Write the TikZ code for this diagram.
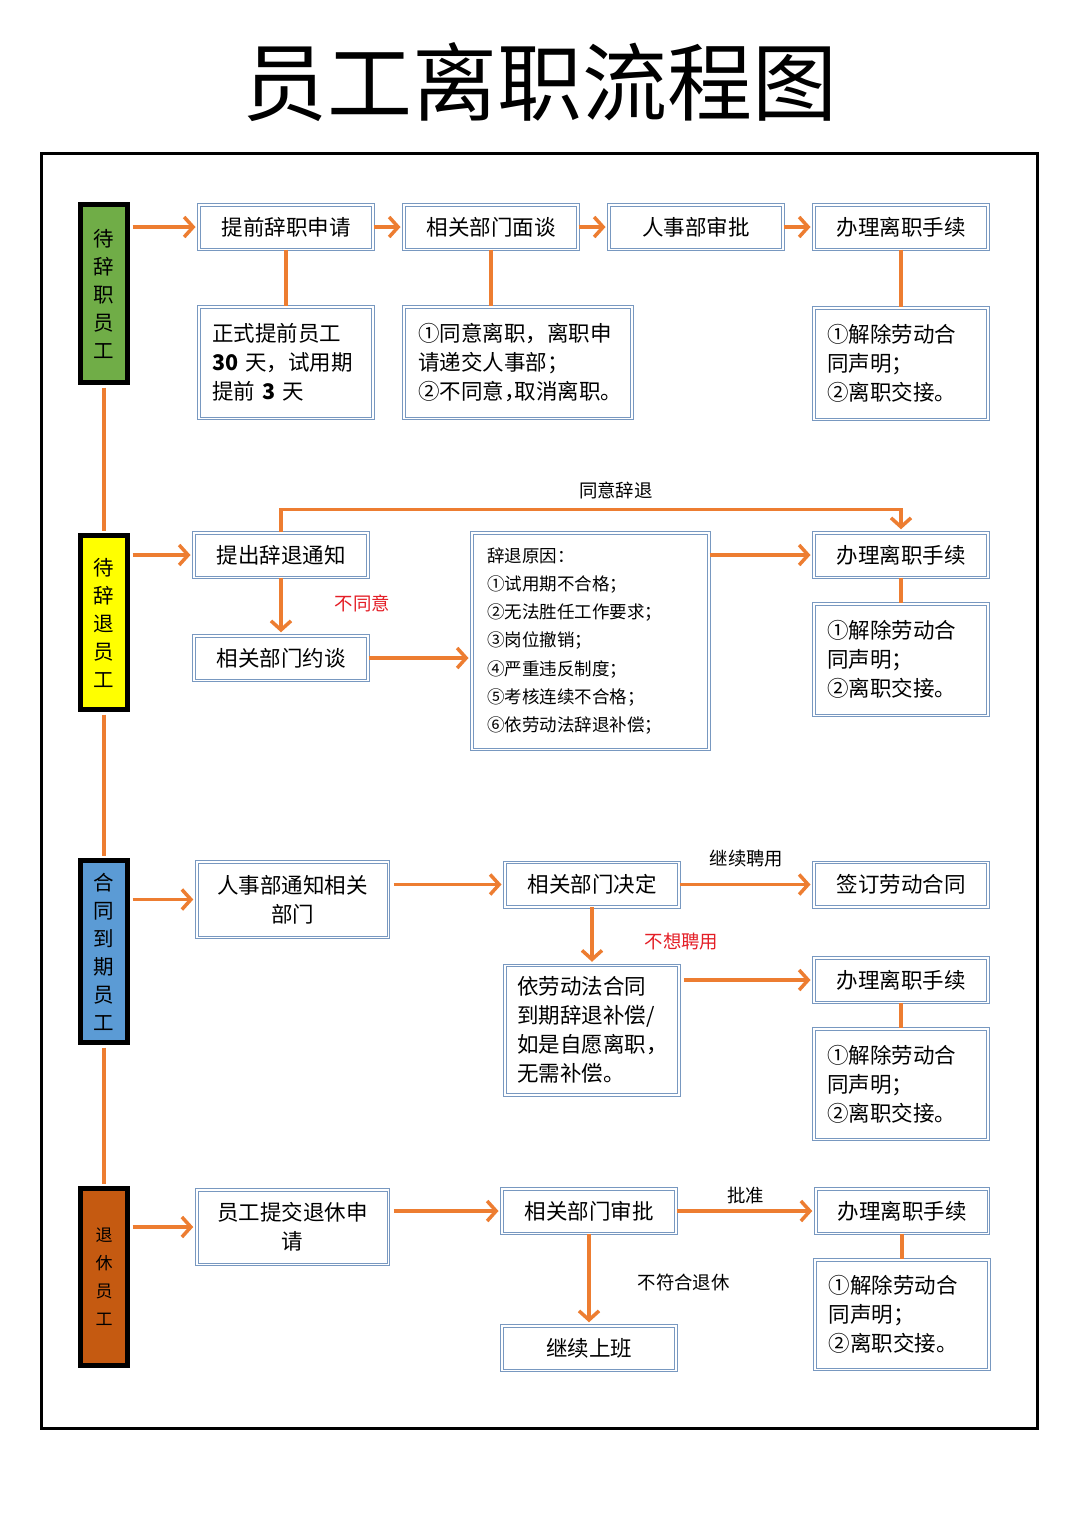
\documentclass[tikz,border=0pt]{standalone}
\usepackage{fontspec}
\setmainfont{Noto Sans CJK SC}
\usepackage{tikz}
\usetikzlibrary{positioning}
\usetikzlibrary{arrows.meta}

\definecolor{flowline}{RGB}{237,125,49}
\definecolor{boxline}{RGB}{120,152,192}
\definecolor{lanegreen}{RGB}{112,173,71}
\definecolor{laneyellow}{RGB}{255,255,0}
\definecolor{laneblue}{RGB}{91,155,213}
\definecolor{lanebrown}{RGB}{197,90,17}
\definecolor{tagred}{RGB}{228,30,38}

\newcommand\halfp[1]{\makebox[0.5em][l]{#1}}

\begin{document}
\begin{tikzpicture}[x=1pt,y=-1pt,>={Straight Barb[length=9pt,width=20pt]},
                    lane node/.style={draw=black,line width=5pt,minimum width=47pt,inner sep=0pt,align=center,font=\fontsize{20.5}{28}\selectfont},
                    box node/.style={draw=boxline,double=white,double distance=1.5pt,line width=1pt,fill=white,
                                     minimum width=174pt,minimum height=44.5pt,inner sep=2pt,font=\fontsize{21.5}{29}\selectfont},
                    note node/.style={box node,align=left,text width=148pt,inner xsep=13pt,inner ysep=0pt},
                    tag node/.style={font=\fontsize{18.4}{20}\selectfont,inner sep=2pt},
                    flow/.style={draw=flowline,line width=3.5pt},
                    flow arrow/.style={flow,->,shorten >=3pt}]

  \path[use as bounding box,fill=white] (0,0) rectangle (1080,1527);
  \node[font=\fontsize{85}{90}\selectfont] (title) at (540,82) {员工离职流程图};
  \draw[line width=3pt] (41,153) rectangle (1037,1428);

  % lanes
  \node[lane node,fill=lanegreen,minimum height=178pt] (l1) at (104,293.5) {待\\辞\\职\\员\\工};
  \node[lane node,fill=laneyellow,minimum height=174pt] (l2) at (104,622.5) {待\\辞\\退\\员\\工};
  \node[lane node,fill=laneblue,minimum height=182pt] (l3) at (104,951.5) {合\\同\\到\\期\\员\\工};
  \node[lane node,fill=lanebrown,minimum height=177pt,font=\fontsize{17}{28}\selectfont] (l4) at (104,1277) {退\\休\\员\\工};

  % resign
  \node[box node] (apply) at (286,227) {提前辞职申请};
  \node[box node] (talk) at (491,227) {相关部门面谈};
  \node[box node] (hrok) at (696,227) {人事部审批};
  \node[box node] (quit1) at (901,227) {办理离职手续};
  \node[note node,minimum height=111.5pt] (notice1) at (286,362.5) {正式提前员工\\\textbf{30} 天，试用期\\提前 \textbf{3} 天};
  \node[note node,text width=200pt,inner xsep=14pt,minimum width=228pt,minimum height=111.5pt] (agree) at (518,362.5)
       {①同意离职，离职申\\请递交人事部；\\②不同意\halfp{，}取消离职。};
  \node[note node,minimum height=111.5pt,below=57.5pt of quit1] (hand1) {①解除劳动合\\同声明；\\②离职交接。};

  % dismiss
  \node[box node] (notice) at (281,555) {提出辞退通知};
  \node[box node,below=57.5pt of notice] (meet) {相关部门约谈};
  \node[note node,text width=207pt,inner xsep=15pt,minimum width=237pt,minimum height=216.5pt,font=\fontsize{17.5}{28.3}\selectfont] (reason) at (590.5,641)
       {辞退原因：\\①试用期不合格；\\②无法胜任工作要求；\\③岗位撤销；\\④严重违反制度；\\⑤考核连续不合格；\\⑥依劳动法辞退补偿；};
  \node[box node] (quit2) at (901,555) {办理离职手续};
  \node[note node,minimum height=111.5pt,below=25.5pt of quit2] (hand2) {①解除劳动合\\同声明；\\②离职交接。};

  % contract ends
  \node[box node,minimum width=191.5pt,minimum height=75.5pt,align=center] (hrtell) at (292.5,899.5) {人事部通知相关\\部门};
  \node[box node] (decide) at (592,884.5) {相关部门决定};
  \node[box node] (sign) at (901,884.5) {签订劳动合同};
  \node[note node,text width=150pt,inner xsep=12pt,minimum height=129.5pt,below=57.5pt of decide] (comp)
       {依劳动法合同\\到期辞退补偿/\\如是自愿离职，\\无需补偿。};
  \node[box node] (quit3) at (901,980) {办理离职手续};
  \node[note node,minimum height=110.5pt,below=25.5pt of quit3] (hand3) {①解除劳动合\\同声明；\\②离职交接。};

  % retire
  \node[box node,minimum width=191.5pt,minimum height=74.5pt,align=center] (retire) at (292.5,1227) {员工提交退休申\\请};
  \node[box node] (approve) at (589,1211) {相关部门审批};
  \node[box node,below=91.5pt of approve] (keep) {继续上班};
  \node[box node,minimum width=172.5pt] (quit4) at (902,1211) {办理离职手续};
  \node[note node,text width=146.5pt,minimum height=109.5pt,below=25.5pt of quit4] (hand4) {①解除劳动合\\同声明；\\②离职交接。};

  \path[flow]
    (l1) edge[shorten <=2.5pt,shorten >=2.5pt] (l2)
    (l2) edge[shorten <=2.5pt,shorten >=2.5pt] (l3)
    (l3) edge[shorten <=2.5pt,shorten >=2.5pt] (l4)
    (apply) edge (notice1)
    (talk) edge (talk.south |- agree.north)
    (quit1) edge (hand1)
    (quit2) edge (hand2)
    (quit3) edge (hand3)
    (quit4) edge (hand4);

  \path[flow arrow]
    (apply) edge (talk)
    (talk) edge (hrok)
    (hrok) edge (quit1)
    (notice) edge node[tag node,pos=0.45,right=50pt,text=tagred] {不同意} (meet)
    (decide) edge node[tag node,above=14pt] {继续聘用} (sign)
    (decide) edge node[tag node,pos=0.6,right=49pt,text=tagred] {不想聘用} (comp)
    (approve) edge node[tag node,above=3pt] {批准} (quit4)
    (approve) edge node[tag node,pos=0.53,right=45pt] {不符合退休} (keep);

  \draw[flow arrow,shorten <=2.5pt] (l1.east |- apply) -- (apply.west);
  \draw[flow arrow,shorten <=2.5pt] (l2.east |- notice) -- (notice.west);
  \draw[flow arrow,shorten <=2.5pt] (l3.east |- hrtell) -- (hrtell.west);
  \draw[flow arrow,shorten <=2.5pt] (l4.east |- retire) -- (retire.west);
  \draw[flow arrow] (meet.east) -- (reason.west |- meet);
  \draw[flow arrow] (reason.east |- quit2) -- (quit2.west);
  \draw[flow arrow,shorten <=5pt] (hrtell.east |- decide) -- (decide.west);
  \draw[flow arrow,shorten <=4pt] (comp.east |- quit3) -- (quit3.west);
  \draw[flow arrow,shorten <=5pt] (retire.east |- approve) -- (approve.west);
  \draw[flow arrow] (notice.north) -- ++(0,-23) -| node[tag node,pos=0.27,above=7pt] {同意辞退} (quit2.north);
\end{tikzpicture}
\end{document}
